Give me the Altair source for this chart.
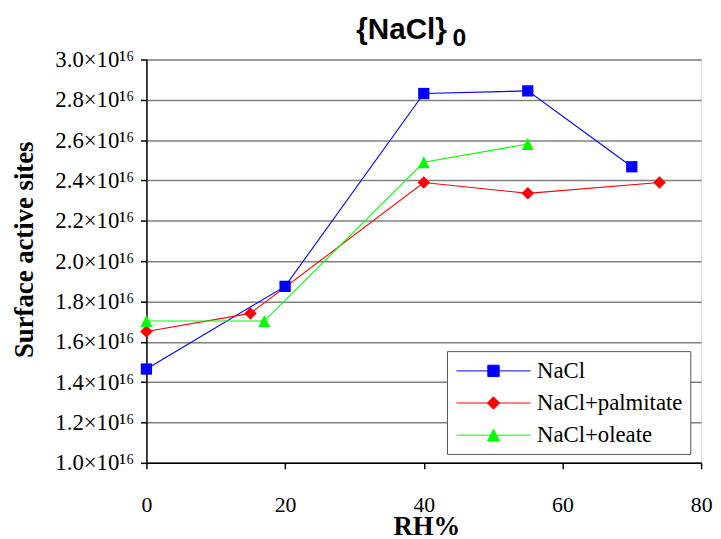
import altair as alt
import pandas as pd

series_names = ["NaCl", "NaCl+palmitate", "NaCl+oleate"]

nacl_rh = [0, 20, 40, 55, 70]
nacl_sites = [1.465e16, 1.875e16, 2.831e16, 2.844e16, 2.468e16]

palm_rh = [0, 15, 40, 55, 74]
palm_sites = [1.651e16, 1.741e16, 2.390e16, 2.336e16, 2.390e16]

oleate_rh = [0, 17, 40, 55]
oleate_sites = [1.703e16, 1.703e16, 2.490e16, 2.581e16]

colors = ["#0000FF", "#FF0000", "#00FF00"]
marker_shapes = ["square", "diamond", "M0,-1L1,1L-1,1Z"]
marker_sizes = [130, 160, 144]
legend_shapes = [
    "M-3,0H3M-0.46,-0.46H0.46V0.46H-0.46Z",
    "M-3,0H3M0,-0.5L0.5,0L0,0.5L-0.5,0Z",
    "M-3,0H3M0,-0.48L0.48,0.48L-0.48,0.48Z",
]

x_ticks = [0, 20, 40, 60, 80]
y_ticks = [1.0e16, 1.2e16, 1.4e16, 1.6e16, 1.8e16, 2.0e16,
           2.2e16, 2.4e16, 2.6e16, 2.8e16, 3.0e16]

title_main = ["{NaCl}"]
title_sub = ["0"]

rows = []
for name, xs, ys in [(series_names[0], nacl_rh, nacl_sites),
                     (series_names[1], palm_rh, palm_sites),
                     (series_names[2], oleate_rh, oleate_sites)]:
    for xv, yv in zip(xs, ys):
        rows.append({"series": name, "rh": xv, "sites": yv})
df = pd.DataFrame(rows)

SERIF = "Liberation Serif"
SANS = "Liberation Sans"

x_enc = alt.X(
    "rh:Q",
    scale=alt.Scale(domain=[0, 80], nice=False, zero=False),
    axis=alt.Axis(
        values=x_ticks, grid=False, title="RH%", labelFlush=False,
        labelFont=SERIF, labelFontSize=22, labelColor="black",
        labelPadding=26, tickSize=6, tickColor="black", tickWidth=1.5,
        domainColor="black", domainWidth=1.5,
        titleFont=SERIF, titleFontSize=27, titleFontWeight="bold", titleColor="black",
        titleX=283, titleY=72, titleBaseline="alphabetic", titleAlign="center",
    ),
)
y_enc = alt.Y(
    "sites:Q",
    scale=alt.Scale(domain=[1.0e16, 3.0e16], nice=False, zero=False),
    axis=alt.Axis(
        values=y_ticks, grid=True, gridColor="#808080", gridWidth=1.5,
        labelExpr="format(datum.value / 1e16, '.1f') + '×10¹⁶'",
        labelFont=SERIF, labelFontSize=23, labelColor="black", labelPadding=7,
        tickSize=6, tickColor="black", tickWidth=1.5,
        domainColor="black", domainWidth=1.5,
        title="Surface active sites",
        titleFont=SERIF, titleFontSize=27, titleFontWeight="bold", titleColor="black",
        titleAngle=270, titleX=-115, titleY=192, titleBaseline="alphabetic",
        titleAlign="center",
    ),
)

legend = alt.Legend(
    orient="none", legendX=304, legendY=295, title=None,
    fillColor="white", strokeColor="#555555", padding=7,
    labelFont=SERIF, labelFontSize=23, labelColor="black",
    symbolSize=625, symbolStrokeWidth=1, symbolOffset=27, labelOffset=31,
    symbolOpacity=1, symbolFillColor="black", symbolStrokeColor="black",
    rowPadding=7.5,
)

stroke_scale = alt.Scale(domain=series_names, range=colors)
fill_scale = alt.Scale(domain=series_names, range=colors)

# invisible layer that only carries the legend (line + marker symbols)
legend_layer = alt.Chart(df).mark_point(filled=True, opacity=0, size=625).encode(
    x=x_enc, y=y_enc,
    fill=alt.Fill("series:N", scale=fill_scale, legend=legend),
    stroke=alt.Stroke("series:N", scale=stroke_scale, legend=legend),
    shape=alt.Shape("series:N", scale=alt.Scale(domain=series_names, range=legend_shapes),
                    legend=legend),
)

lines = alt.Chart(df).mark_line(strokeWidth=1.1).encode(
    x=x_enc, y=y_enc,
    stroke=alt.Stroke("series:N", scale=stroke_scale, legend=legend),
    order="rh:Q",
)

point_layers = []
for name, shp, sz in zip(series_names, marker_shapes, marker_sizes):
    point_layers.append(
        alt.Chart(df).transform_filter(alt.datum.series == name)
        .mark_point(filled=True, opacity=1, strokeWidth=0, shape=shp, size=sz)
        .encode(x=x_enc, y=y_enc,
                fill=alt.Fill("series:N", scale=fill_scale, legend=legend))
    )

title_text = alt.Chart(pd.DataFrame({"t": title_main})).mark_text(
    font=SANS, fontSize=30, fontWeight="bold", color="black",
    baseline="alphabetic", align="center",
).encode(text="t:N", x=alt.value(258), y=alt.value(-21))

sub_text = alt.Chart(pd.DataFrame({"t": title_sub})).mark_text(
    font=SANS, fontSize=25, fontWeight="bold", color="black",
    baseline="alphabetic", align="center",
).encode(text="t:N", x=alt.value(316.5), y=alt.value(-13.7))

chart = alt.layer(legend_layer, lines, *point_layers, title_text, sub_text).properties(
    width=561, height=408,
    autosize=alt.AutoSizeParams(type="none"),
    padding={"left": 140, "top": 49, "right": 12, "bottom": 74},
).configure_view(stroke="#808080", strokeWidth=1.5).configure(background="white")

chart.save("out.html", embed_options={"renderer": "svg", "actions": False})
